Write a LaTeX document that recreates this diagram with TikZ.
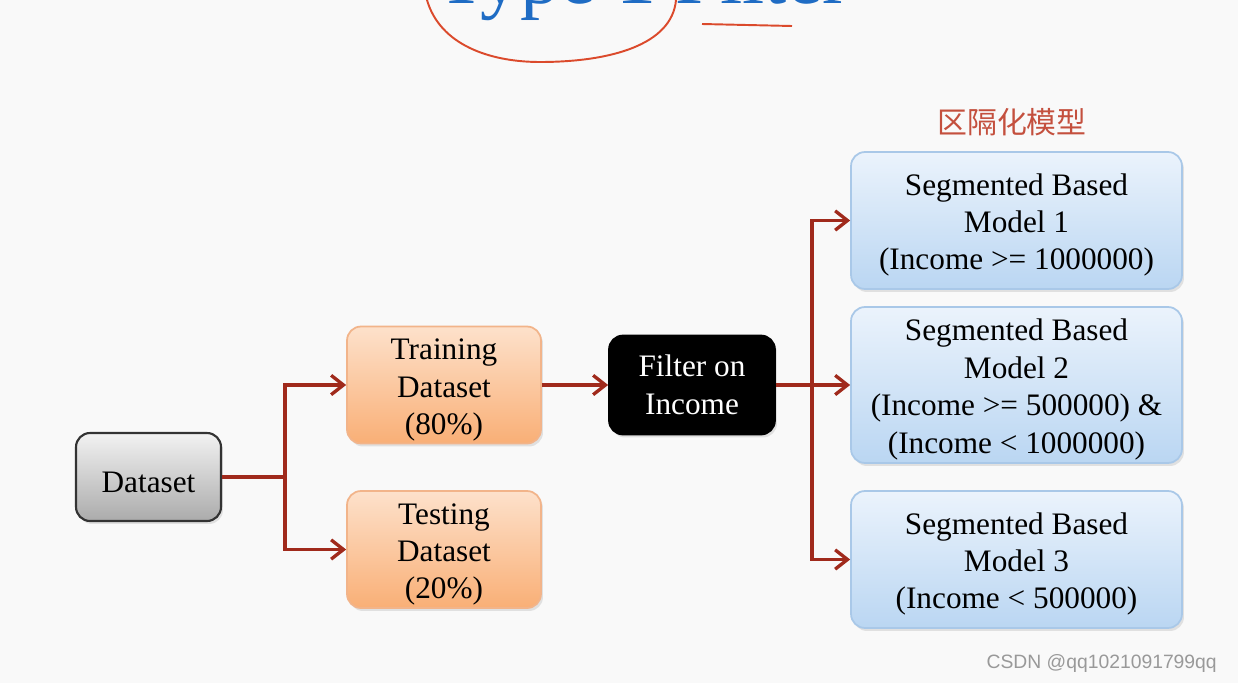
\documentclass[tikz,border=0pt]{standalone}
\usepackage{fontspec}
\setmainfont{Liberation Serif}
\newfontfamily\cjkfont{Noto Sans CJK SC}
\newfontfamily\markfont{Liberation Sans}
\usepackage{tikz}
\usetikzlibrary{arrows.meta,positioning,shadows}
\definecolor{sgbg}{HTML}{F9F9F9}
\definecolor{sgarrow}{HTML}{A02A1C}
\definecolor{sgtitle}{HTML}{1F6CC4}
\definecolor{sgpen}{HTML}{DB4A2C}
\definecolor{sglabel}{HTML}{C4503E}
\definecolor{sggreytop}{HTML}{F2F2F2}
\definecolor{sggreybot}{HTML}{ABABAB}
\definecolor{sggreyline}{HTML}{333333}
\definecolor{sgorangetop}{HTML}{FDE1CB}
\definecolor{sgorangebot}{HTML}{F9AF76}
\definecolor{sgorangeline}{HTML}{F2B48A}
\definecolor{sgbluetop}{HTML}{EBF3FC}
\definecolor{sgbluebot}{HTML}{BAD6F2}
\definecolor{sgblueline}{HTML}{A9C8E8}
\newcommand{\topgap}{\rule{0pt}{17.5pt}}

\begin{document}
\begin{tikzpicture}[x=0.02cm,y=-0.02cm,
  box/.style={rounded corners=0.28cm,line width=1pt,align=center,inner sep=0pt,
    font=\fontsize{17.8}{21.3}\selectfont,
    drop shadow={opacity=0.2,shadow xshift=0.04cm,shadow yshift=-0.06cm}},
  greybox/.style={box,draw=sggreyline,line width=1.2pt,top color=sggreytop,bottom color=sggreybot,
    minimum width=2.9cm,minimum height=1.76cm},
  orangebox/.style={box,draw=sgorangeline,top color=sgorangetop,bottom color=sgorangebot,
    minimum width=3.88cm,minimum height=2.34cm},
  blackbox/.style={box,draw=black,fill=black,text=white,
    minimum width=3.32cm,minimum height=1.98cm},
  bluebox/.style={box,draw=sgblueline,top color=sgbluetop,bottom color=sgbluebot,
    minimum width=6.62cm,minimum height=2.74cm},
  flow/.style={sgarrow,line width=1.9pt,
    -{Straight Barb[length=7pt,width=11pt,line width=1.9pt]}}]
\useasboundingbox (0,0) rectangle (1238,683);
\clip (0,0) rectangle (1238,683);
\fill[sgbg] (0,0) rectangle (1238,683);

% title, cut at the top of the slide
\node[sgtitle,font=\fontsize{45.5}{46}\selectfont,anchor=base west,inner sep=0pt]
  (title) at (437,3) {Type 1 Filter};
\draw[sgpen,line width=1.1pt] (427,0) .. controls (440,45) and (490,62) .. (540,62)
  .. controls (610,62) and (672,45) .. (676,0);
\draw[sgpen,line width=1.1pt] (702,24) -- (792,26);

\node[greybox] (data) at (148.5,477) {\topgap Dataset};
\node[orangebox] (train) at (444,385) {\topgap Training\\Dataset\\(80\%)};
\node[orangebox] (test) at (444,549.5) {\topgap Testing\\Dataset\\(20\%)};
\node[blackbox] (filter) at (692,385) {Filter on\\Income};
\node[bluebox] (m1) at (1016.5,220.5)
  {\topgap Segmented Based\\Model 1\\(Income >= 1000000)};
\node[bluebox,minimum height=3.12cm] (m2) at (1016.5,385)
  {\topgap Segmented Based\\Model 2\\(Income >= 500000) \&\\(Income < 1000000)};
\node[bluebox] (m3) at (1016.5,559.5)
  {\topgap Segmented Based\\Model 3\\(Income < 500000)};
\node[sglabel,font=\cjkfont\fontsize{17}{20}\selectfont] (seglabel) at (1012,122) {区隔化模型};

\coordinate (split1) at (285,477);
\coordinate (split2) at (812,385);
\draw[flow] (data.east) -- (split1) |- (train.west);
\draw[flow] (split1) |- (test.west);
\draw[flow] (train) -- (filter);
\draw[sgarrow,line width=1.9pt] (filter.east) -- (split2);
\draw[flow] (split2) |- (m1.west);
\draw[flow] (split2) -- (m2);
\draw[flow] (split2) |- (m3.west);

\node[font=\markfont\fontsize{11}{12}\selectfont,text=black!40,anchor=east]
  (mark) at (1223,663) {CSDN @qq1021091799qq};
\end{tikzpicture}
\end{document}
